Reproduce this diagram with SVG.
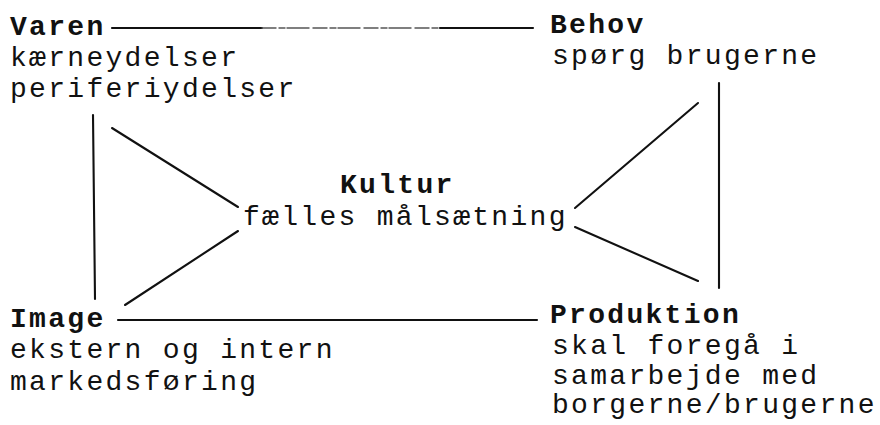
<svg xmlns="http://www.w3.org/2000/svg" width="880" height="425" viewBox="0 0 880 425">
<style>
text{font-family:"Liberation Mono","Courier New",monospace;font-size:28px;letter-spacing:2.3px;fill:#111}
.b{font-weight:bold}
.c line{stroke:#111;stroke-width:2.1;stroke-linecap:round}
.c line.faint{stroke:#555;stroke-width:1.4;stroke-dasharray:14 3 6 2 22 4}
</style>
<rect width="880" height="425" fill="#fff"/>
<g id="connectors" class="c">
<line x1="112" y1="28" x2="262" y2="28"/>
<line class="faint" x1="262" y1="28" x2="440" y2="28"/>
<line x1="440" y1="28" x2="533" y2="28"/>
<line x1="118" y1="320" x2="537" y2="320"/>
<line x1="93" y1="115" x2="95" y2="299"/>
<line x1="719" y1="83" x2="719" y2="288"/>
<line x1="112" y1="128" x2="238" y2="207"/>
<line x1="238" y1="231" x2="125" y2="305"/>
<line x1="575" y1="208" x2="698" y2="103"/>
<line x1="575" y1="227" x2="698" y2="281"/>
</g>
<g id="varen">
<text x="10" y="35" class="b">Varen</text>
<text x="10" y="66">kærneydelser</text>
<text x="10" y="97">periferiydelser</text>
</g>
<g id="behov">
<text x="550" y="33" class="b">Behov</text>
<text x="552" y="64">spørg brugerne</text>
</g>
<g id="kultur">
<text x="340" y="193" class="b">Kultur</text>
<text x="243" y="225">fælles målsætning</text>
</g>
<g id="image">
<text x="10" y="327" class="b">Image</text>
<text x="10" y="358">ekstern og intern</text>
<text x="10" y="390">markedsføring</text>
</g>
<g id="produktion">
<text x="550" y="323" class="b">Produktion</text>
<text x="552" y="354">skal foregå i</text>
<text x="552" y="384">samarbejde med</text>
<text x="552" y="413">borgerne/brugerne</text>
</g>
</svg>
